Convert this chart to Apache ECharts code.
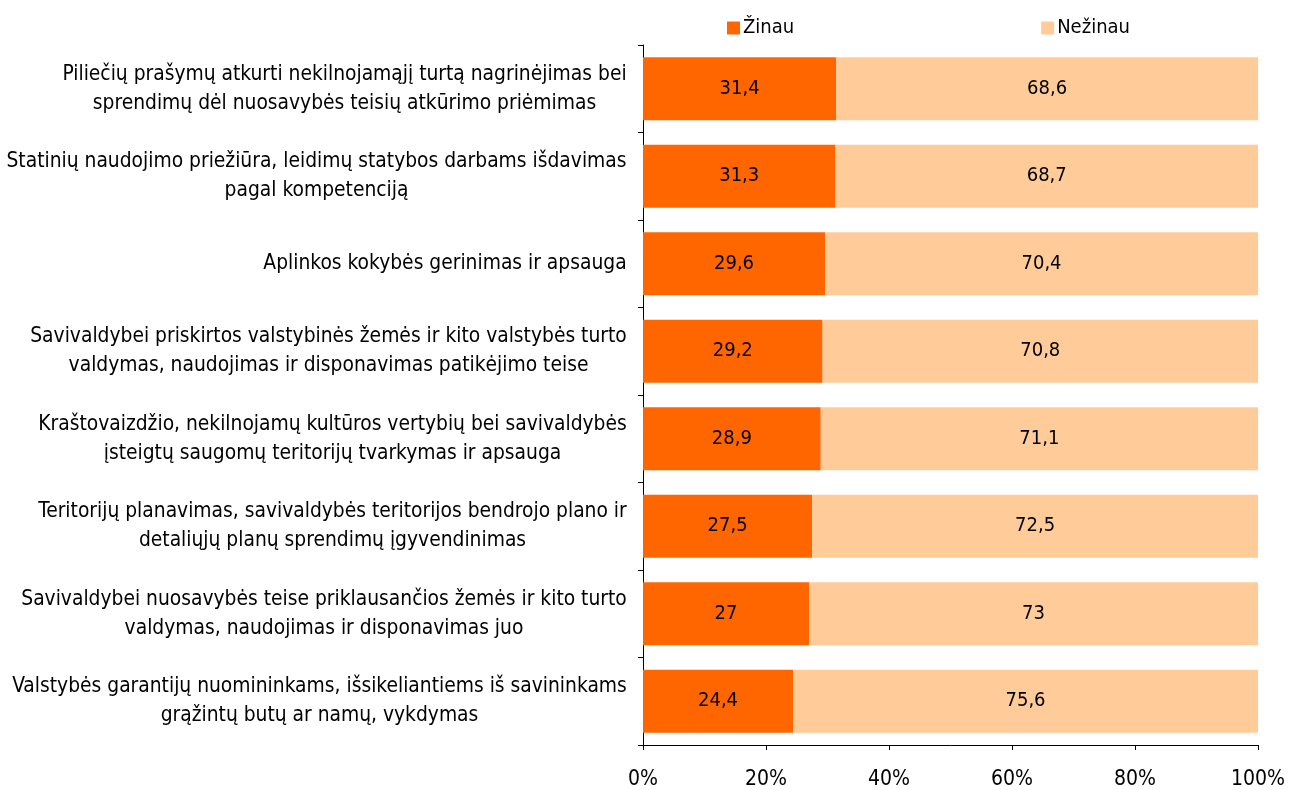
<!DOCTYPE html>
<html><head><meta charset="utf-8">
<script src="https://cdn.jsdelivr.net/npm/echarts@6/dist/echarts.min.js"></script>
<style>html,body{margin:0;padding:0;background:#fff}#c{width:1303px;height:790px}</style>
</head><body><div id="c"></div>
<script>
const categories = [
  "Piliečių prašymų atkurti nekilnojamąjį turtą nagrinėjimas bei\nsprendimų dėl nuosavybės teisių atkūrimo priėmimas",
  "Statinių naudojimo priežiūra, leidimų statybos darbams išdavimas\npagal kompetenciją",
  "Aplinkos kokybės gerinimas ir apsauga",
  "Savivaldybei priskirtos valstybinės žemės ir kito valstybės turto\nvaldymas, naudojimas ir disponavimas patikėjimo teise",
  "Kraštovaizdžio, nekilnojamų kultūros vertybių bei savivaldybės\nįsteigtų saugomų teritorijų tvarkymas ir apsauga",
  "Teritorijų planavimas, savivaldybės teritorijos bendrojo plano ir\ndetaliųjų planų sprendimų įgyvendinimas",
  "Savivaldybei nuosavybės teise priklausančios žemės ir kito turto\nvaldymas, naudojimas ir disponavimas juo",
  "Valstybės garantijų nuomininkams, išsikeliantiems iš savininkams\ngrąžintų butų ar namų, vykdymas"
];
const zinau = [31.4, 31.3, 29.6, 29.2, 28.9, 27.5, 27, 24.4];
const nezinau = [68.6, 68.7, 70.4, 70.8, 71.1, 72.5, 73, 75.6];
const seriesNames = ["Žinau", "Nežinau"];
const xTicks = [0, 20, 40, 60, 80, 100];

const FONT = "DejaVu Sans Condensed";
const LFS = 20.8;
const fmt = v => String(v).replace('.', ',');

// measure each label block so its lines can be centred within a right-anchored block
const ctx = document.createElement('canvas').getContext('2d');
ctx.font = LFS + 'px "' + FONT + '"';
const rich = {};
categories.forEach((c, i) => {
  const w = Math.max(...c.split('\n').map(s => ctx.measureText(s).width));
  rich['r' + i] = {width: Math.ceil(w), align: 'center', fontFamily: FONT, fontSize: LFS, color: '#000', lineHeight: 29};
});

const chart = echarts.init(document.getElementById('c'));
chart.setOption({
  animation: false,
  textStyle: {fontFamily: FONT},
  legend: {
    top: 13, left: 722, itemWidth: 13, itemHeight: 13, itemGap: 247,
    icon: 'rect',
    textStyle: {fontFamily: FONT, fontSize: 20, color: '#000', padding: [0,0,0,-2]},
    data: seriesNames
  },
  grid: {left: 643, right: 45, top: 45, bottom: 45, containLabel: false},
  xAxis: {
    type: 'value', min: 0, max: 100, interval: 20,
    axisLine: {show: true, lineStyle: {color: '#000'}},
    axisTick: {show: true, length: 5, lineStyle: {color: '#000'}},
    splitLine: {show: false},
    axisLabel: {fontFamily: FONT, fontSize: 21, color: '#000', margin: 24,
      formatter: v => xTicks.includes(v) ? v + '%' : ''}
  },
  yAxis: {
    type: 'category', inverse: true, data: categories,
    axisLine: {show: true, lineStyle: {color: '#000'}},
    axisTick: {show: true, length: 5, lineStyle: {color: '#000'}},
    axisLabel: {color: '#000', margin: 16, align: 'right', rich: rich,
      formatter: (v, i) => v.split('\n').map(s => '{r' + i + '|' + s + '}').join('\n')}
  },
  series: [
    {name: seriesNames[0], type: 'bar', stack: 's', data: zinau, barCategoryGap: '28%',
     itemStyle: {color: '#FF6600'},
     label: {show: true, position: 'inside', color: '#000', fontFamily: FONT, fontSize: 20, formatter: p => fmt(p.value)}},
    {name: seriesNames[1], type: 'bar', stack: 's', data: nezinau, barCategoryGap: '28%',
     itemStyle: {color: '#FFCC99'},
     label: {show: true, position: 'inside', color: '#000', fontFamily: FONT, fontSize: 20, formatter: p => fmt(p.value)}}
  ]
});
</script></body></html>
